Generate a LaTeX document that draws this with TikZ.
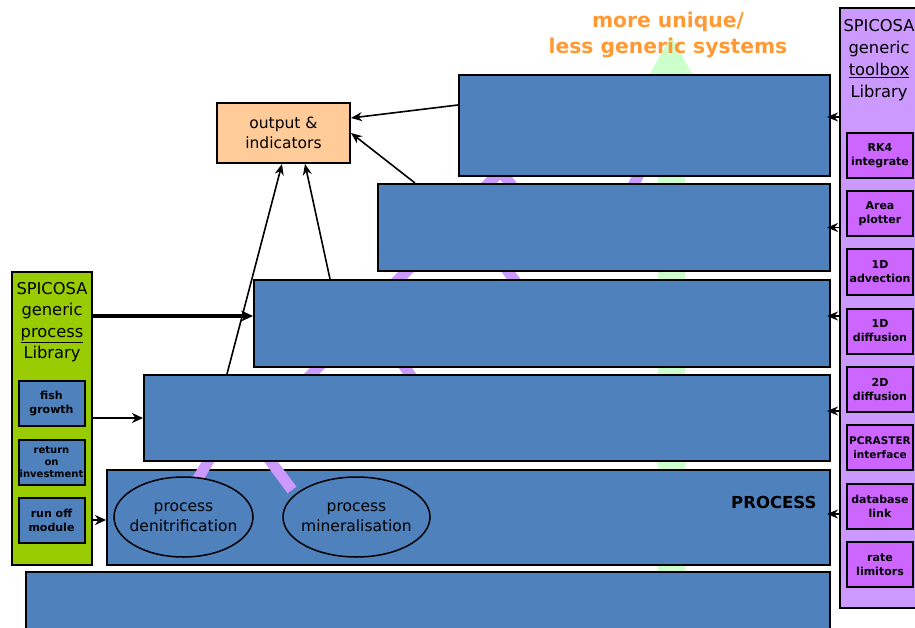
\documentclass[tikz,border=0pt]{standalone}
\usepackage{fontspec}
\setmainfont{DejaVu Sans}
\usetikzlibrary{shapes.geometric,arrows.meta}
\definecolor{boxblue}{RGB}{79,129,189}
\definecolor{outorange}{RGB}{255,204,153}
\definecolor{libgreen}{RGB}{153,204,0}
\definecolor{toolpurple}{RGB}{204,153,255}
\definecolor{toolbright}{RGB}{204,102,255}
\definecolor{treepurple}{RGB}{204,153,255}
\definecolor{arrowgreen}{RGB}{204,255,204}
\definecolor{titleorange}{RGB}{255,153,51}
\begin{document}
\begin{tikzpicture}[x=1pt,y=-1pt,
  bbox/.style={draw=black, line width=2pt, fill=boxblue, inner sep=0pt},
  smallbox/.style={draw=black, line width=2pt, inner sep=0pt, minimum width=66pt, minimum height=45pt,
     align=center, font=\bfseries\fontsize{11}{14}\selectfont},
  libsmall/.style={smallbox, fill=boxblue},
  toolsmall/.style={smallbox, fill=toolbright},
  tree/.style={treepurple, line width=11pt},
  arr/.style={-{Stealth[length=11pt,width=9pt]}, line width=1.6pt},
  thickarr/.style={-{Stealth[length=12pt,width=11pt]}, line width=3.5pt},
  midarr/.style={-{Stealth[length=11pt,width=10pt]}, line width=2.8pt},
  procell/.style={ellipse, draw=black, line width=1.5pt, fill=boxblue, inner sep=0pt},
  proctext/.style={align=center, font=\fontsize{15.5}{20}\selectfont, inner sep=0pt}
]
\useasboundingbox (0,0) rectangle (915,628);
\clip (0,0) rectangle (915,628);

% background: green arrow
\fill[arrowgreen] (658,700) -- (658,95) -- (638,95) -- (671,36) -- (704,95) -- (685,95) -- (685,700) -- cycle;

% background: purple tree pieces
\draw[tree] (506,166) -- (478,194);
\draw[tree] (498,168) -- (520,196);
\draw[tree] (643,166) -- (629,194);
\draw[tree] (416,262) -- (389,289);
\draw[tree] (501,262) -- (521,289);
\draw[tree] (328,357) -- (301,385);
\draw[tree] (398,357) -- (417,385);

% title
\node[align=center, text=titleorange, font=\bfseries\fontsize{20.3}{26}\selectfont] (title) at (668,35) {more unique/\\less generic systems};

% stacked boxes
\node[bbox, minimum width=804pt, minimum height=88pt] (b6) at (428,616) {};
\node[bbox, minimum width=723pt, minimum height=95pt] (b5) at (468.5,517.5) {};
\draw[tree] (212,455) -- (193,487);
\draw[tree] (266,455) -- (292,490);
\node[bbox, minimum width=686pt, minimum height=86pt] (b4) at (487,418) {};
\node[bbox, minimum width=576pt, minimum height=87pt] (b3) at (542,323.5) {};
\node[bbox, minimum width=452pt, minimum height=87pt] (b2) at (604,227.5) {};
\node[bbox, minimum width=371pt, minimum height=101pt] (b1) at (644.5,125.5) {};

\node[procell, minimum width=139pt, minimum height=80pt] (denit) at (183.5,517) {};
\node[proctext] (denittext) at (denit.center) {process\\denitrification};
\node[procell, minimum width=147pt, minimum height=80pt] (miner) at (356.5,517) {};
\node[proctext] (minertext) at (miner.center) {process\\mineralisation};
\node[anchor=east, font=\bfseries\fontsize{16.5}{20}\selectfont] (proc) at (820,502) {PROCESS};

% output box
\node[draw=black, line width=2pt, fill=outorange, minimum width=133pt, minimum height=60pt, inner sep=0pt,
  align=center, font=\fontsize{15.5}{20}\selectfont] (out) at (283.5,133) {output \&\\indicators};

% process library
\node[draw=black, line width=2pt, fill=libgreen, minimum width=80pt, minimum height=293pt, inner sep=0pt] (glib) at (52,418.5) {};
\node[align=center, font=\fontsize{16.3}{21.3}\selectfont] (gtitle) at (52,322) {SPICOSA\\generic\\\underline{process}\\Library};
\node[libsmall] (fish) at (51.5,403.5) {fish\\growth};
\node[libsmall, font=\bfseries\fontsize{10}{12}\selectfont] (roi) at (51.5,462.5) {return\\on\\investment};
\node[libsmall] (runoff) at (51.5,520.5) {run off\\module};

% toolbox library
\node[draw=black, line width=2pt, fill=toolpurple, minimum width=90pt, minimum height=600pt, inner sep=0pt] (tlib) at (885,308) {};
\node[align=center, font=\fontsize{16.3}{22}\selectfont] (ttitle) at (879,60) {SPICOSA\\generic\\\underline{toolbox}\\Library};
\node[toolsmall] (rk4) at (880,155.5) {RK4\\integrate};
\node[toolsmall] (area) at (880,214) {Area\\plotter};
\node[toolsmall] (adv) at (880,272) {1D\\advection};
\node[toolsmall] (diff1) at (880,331) {1D\\diffusion};
\node[toolsmall] (diff2) at (880,389) {2D\\diffusion};
\node[toolsmall, font=\bfseries\fontsize{10.5}{14}\selectfont] (pcr) at (880,447.5) {PCRASTER\\interface};
\node[toolsmall] (db) at (880,506) {database\\link};
\node[toolsmall] (rate) at (880,564.5) {rate\\limitors};

% arrows from toolbox
\draw[arr] ([yshift=8.5pt]b1.east -| tlib.west) -- ([yshift=8.5pt,xshift=-4pt]b1.east);
\draw[arr] (b2.east -| tlib.west) -- ([xshift=-4pt]b2.east);
\draw[arr] ([yshift=7.5pt]b3.east -| tlib.west) -- ([yshift=7.5pt,xshift=-4pt]b3.east);
\draw[arr] ([yshift=7pt]b4.east -| tlib.west) -- ([yshift=7pt,xshift=-4pt]b4.east);
\draw[arr] ([yshift=3.5pt]b5.east -| tlib.west) -- ([yshift=3.5pt,xshift=-4pt]b5.east);

% arrows from process library
\draw[thickarr] ([yshift=7.5pt]b3.west -| glib.east) -- ([yshift=7.5pt]b3.west);
\draw[midarr] (b4.west -| glib.east) -- (b4.west);
\draw[midarr] ([yshift=-2.5pt]b5.west -| glib.east) -- ([yshift=-2.5pt]b5.west);

% arrows to output
\draw[arr] ([yshift=20.5pt]b1.west) -- ([yshift=15pt]out.east);
\draw[arr] ([xshift=38pt]b2.north west) -- (out.east);
\draw[arr] ([xshift=77pt]b3.north west) -- ([xshift=21.5pt]out.south);
\draw[arr] ([xshift=84pt]b4.north west) -- ([xshift=-1.5pt]out.south);
\end{tikzpicture}
\end{document}
